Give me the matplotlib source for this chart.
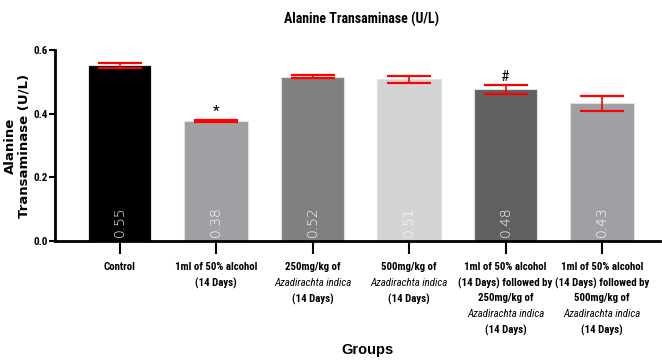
import matplotlib.pyplot as plt
import matplotlib as mpl
import numpy as np

mpl.rcParams['font.family'] = ['Roboto Condensed', 'Archivo Narrow', 'Liberation Sans', 'DejaVu Sans']

# ALT per group: mean and SEM
groups = ['Control', '1ml alcohol', '250mg/kg AI', '500mg/kg AI', 'alcohol + 250mg/kg AI', 'alcohol + 500mg/kg AI']
means = [0.552, 0.378, 0.517, 0.509, 0.477, 0.433]
sems = [0.009, 0.003, 0.004, 0.011, 0.014, 0.023]
value_labels = ['0.55', '0.38', '0.52', '0.51', '0.48', '0.43']
sig_marks = ['', '*', '', '', '#', '']
bar_colors = ['#000000', '#a0a0a4', '#808080', '#d4d4d4', '#606060', '#a0a0a4']

# tick label lines, (text, italic)
tick_lines = [
    [('Control', False)],
    [('1ml of 50% alcohol', False), ('(14 Days)', False)],
    [('250mg/kg of', False), ('Azadirachta indica', True), ('(14 Days)', False)],
    [('500mg/kg of', False), ('Azadirachta indica', True), ('(14 Days)', False)],
    [('1ml of 50% alcohol', False), ('(14 Days) followed by', False), ('250mg/kg of', False),
     ('Azadirachta indica', True), ('(14 Days)', False)],
    [('1ml of 50% alcohol', False), ('(14 Days) followed by', False), ('500mg/kg of', False),
     ('Azadirachta indica', True), ('(14 Days)', False)],
]

fig = plt.figure(figsize=(6.62, 3.63), dpi=100)
ax = fig.add_axes([0.083, 0.336, 0.914, 0.526])

x = np.arange(len(groups))
ax.bar(x, means, width=0.66, color=bar_colors, edgecolor='#e0e0e0', linewidth=0.8, zorder=2)
ax.errorbar(x, means, yerr=sems, fmt='none', ecolor='red', elinewidth=1.2,
            capsize=16, capthick=1.6, zorder=3)

for xi, lab in zip(x, value_labels):
    ax.text(xi, 0.012, lab, rotation=90, color='white', ha='center', va='bottom',
            fontsize=10, family='DejaVu Sans', fontweight='light', zorder=4)

for xi, m, s, mark in zip(x, means, sems, sig_marks):
    if mark:
        ax.text(xi, m + s + 0.004, mark, ha='center', va='bottom', fontsize=11, zorder=4)

ax.set_ylim(0, 0.6)
ax.set_xlim(-0.67, 5.6)
ax.set_yticks([0.0, 0.2, 0.4, 0.6])
ax.set_yticklabels(['0.0', '0.2', '0.4', '0.6'], fontsize=8, fontweight='bold')
ax.set_xticks(x)
ax.set_xticklabels([''] * len(x))
ax.tick_params(axis='x', length=9, width=1.5, direction='out')
ax.tick_params(axis='y', length=4, width=1.5, direction='out', pad=1)

for side in ['top', 'right']:
    ax.spines[side].set_visible(False)
for side in ['left', 'bottom']:
    ax.spines[side].set_linewidth(2)

# multi-line tick labels with italic species name
for xi, lines in zip(x, tick_lines):
    for k, (txt, it) in enumerate(lines):
        ax.annotate(txt, xy=(xi, 0), xycoords=('data', 'axes fraction'),
                    xytext=(0, -15 - 11.3 * k), textcoords='offset points',
                    ha='center', va='top', fontsize=7.8,
                    fontweight='normal' if it else 'bold',
                    fontstyle='italic' if it else 'normal')

ax.set_ylabel('Alanine\nTransaminase (U/L)', family='DejaVu Sans', fontweight='bold',
              fontsize=9.5, linespacing=1.05, labelpad=2)
fig.text(0.555, 0.025, 'Groups', ha='center', fontsize=10.5, fontweight='bold',
         family='Liberation Sans')
fig.text(0.546, 0.935, 'Alanine Transaminase (U/L)', ha='center', fontsize=10, fontweight='bold')

plt.savefig('out.png', dpi=100)
